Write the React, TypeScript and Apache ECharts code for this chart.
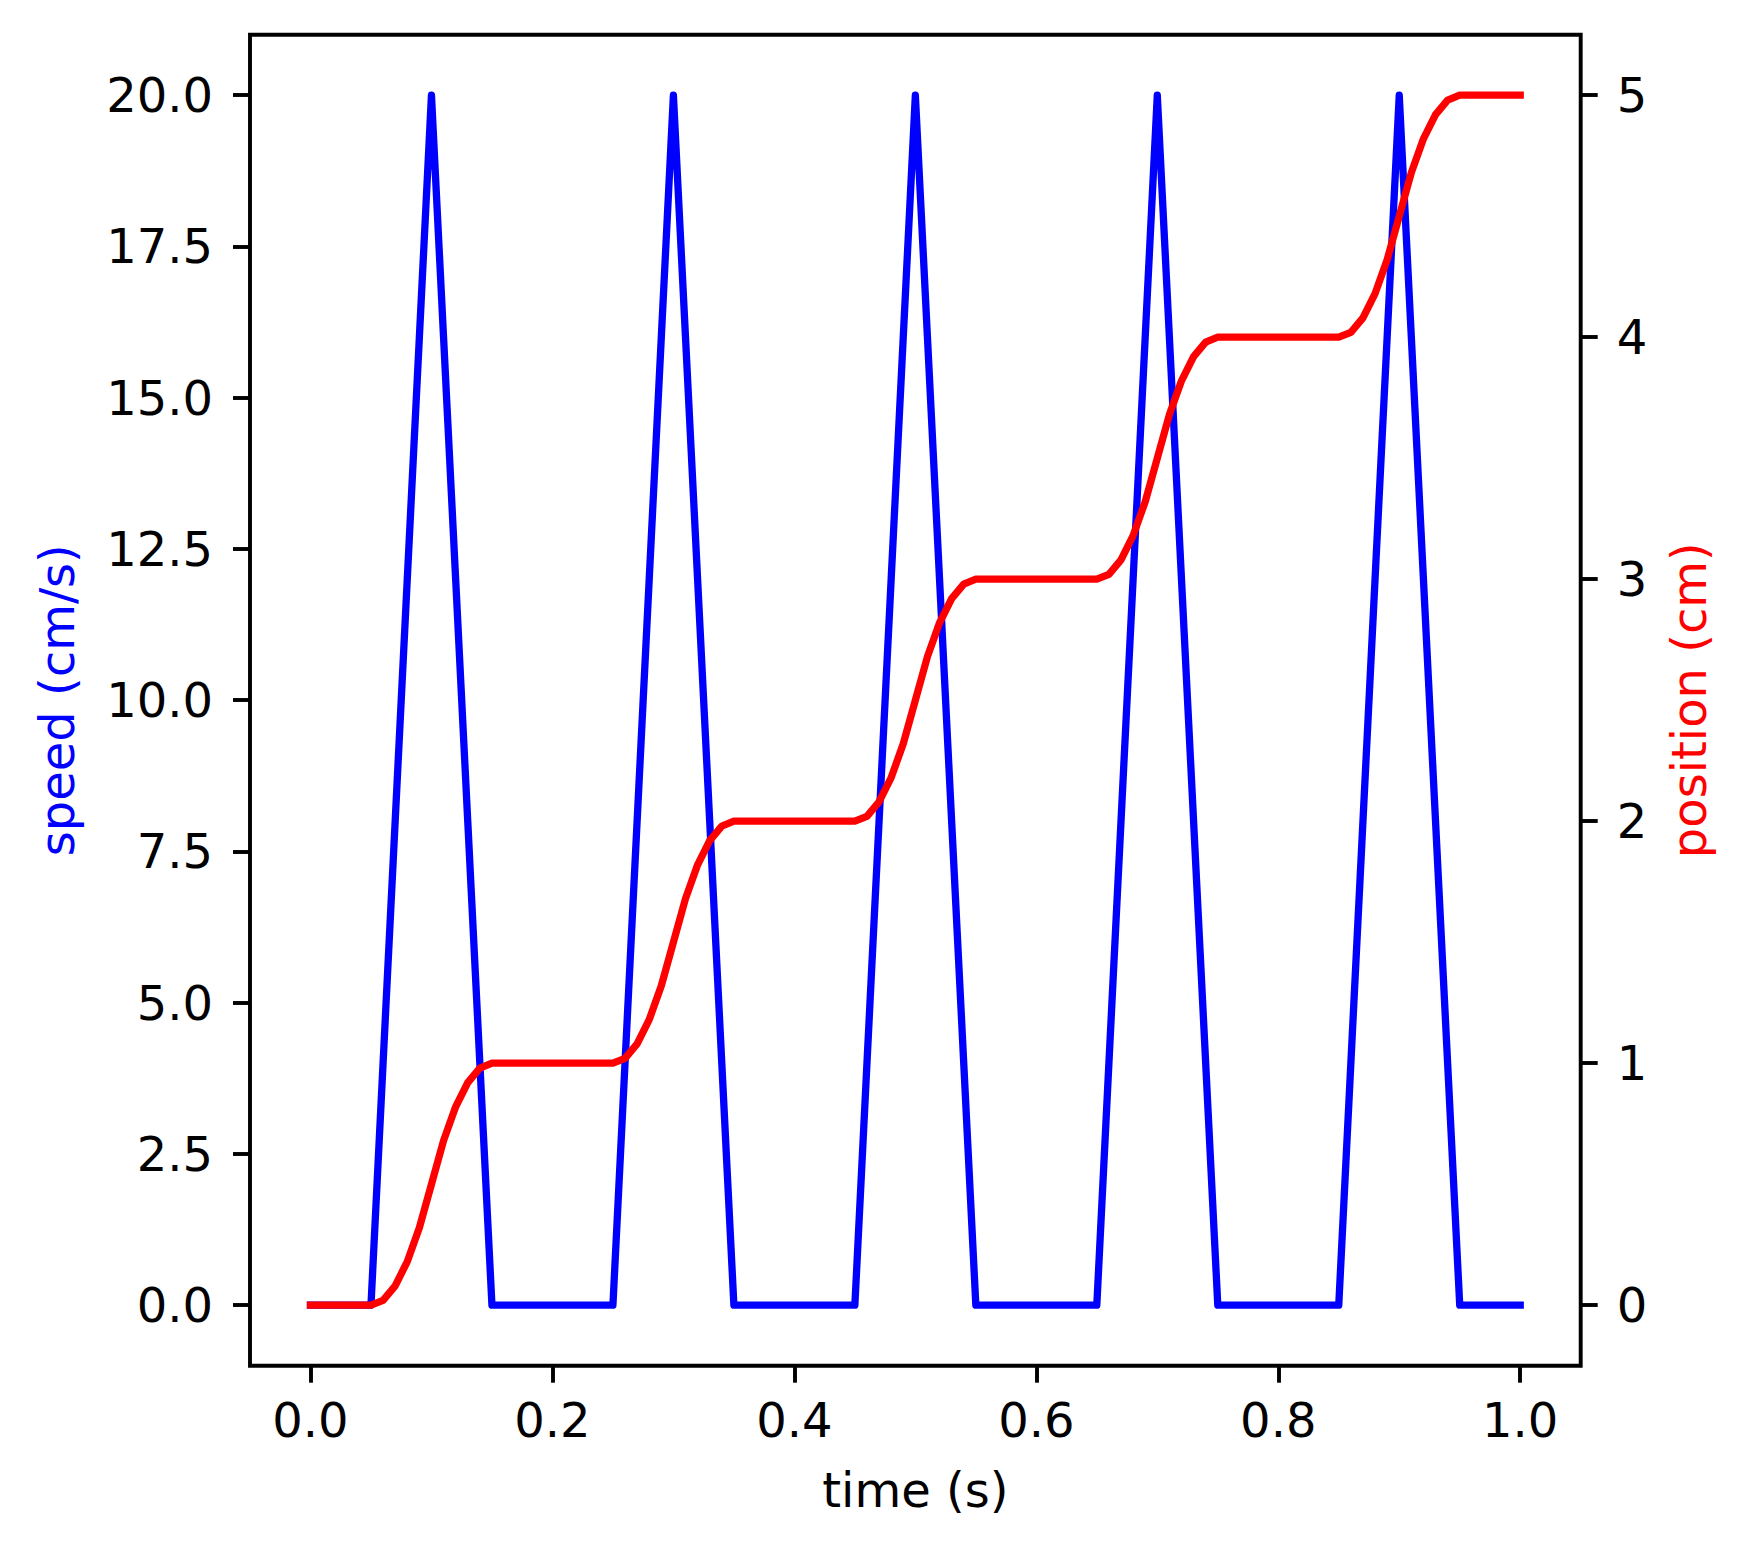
import React, { useEffect, useRef } from "react";
import * as echarts from "echarts";

const time = [
  0.0, 0.01, 0.02, 0.03, 0.04, 0.05, 0.06, 0.07, 0.08, 0.09,
  0.1, 0.11, 0.12, 0.13, 0.14, 0.15, 0.16, 0.17, 0.18, 0.19,
  0.2, 0.21, 0.22, 0.23, 0.24, 0.25, 0.26, 0.27, 0.28, 0.29,
  0.3, 0.31, 0.32, 0.33, 0.34, 0.35, 0.36, 0.37, 0.38, 0.39,
  0.4, 0.41, 0.42, 0.43, 0.44, 0.45, 0.46, 0.47, 0.48, 0.49,
  0.5, 0.51, 0.52, 0.53, 0.54, 0.55, 0.56, 0.57, 0.58, 0.59,
  0.6, 0.61, 0.62, 0.63, 0.64, 0.65, 0.66, 0.67, 0.68, 0.69,
  0.7, 0.71, 0.72, 0.73, 0.74, 0.75, 0.76, 0.77, 0.78, 0.79,
  0.8, 0.81, 0.82, 0.83, 0.84, 0.85, 0.86, 0.87, 0.88, 0.89,
  0.9, 0.91, 0.92, 0.93, 0.94, 0.95, 0.96, 0.97, 0.98, 0.99,
  1.0,
];

const speed = [
  0, 0, 0, 0, 0, 0, 4, 8, 12, 16,
  20, 16, 12, 8, 4, 0, 0, 0, 0, 0,
  0, 0, 0, 0, 0, 0, 4, 8, 12, 16,
  20, 16, 12, 8, 4, 0, 0, 0, 0, 0,
  0, 0, 0, 0, 0, 0, 4, 8, 12, 16,
  20, 16, 12, 8, 4, 0, 0, 0, 0, 0,
  0, 0, 0, 0, 0, 0, 4, 8, 12, 16,
  20, 16, 12, 8, 4, 0, 0, 0, 0, 0,
  0, 0, 0, 0, 0, 0, 4, 8, 12, 16,
  20, 16, 12, 8, 4, 0, 0, 0, 0, 0,
  0,
];

const position = [
  0, 0, 0, 0, 0, 0, 0.02, 0.08, 0.18, 0.32,
  0.5, 0.68, 0.82, 0.92, 0.98, 1, 1, 1, 1, 1,
  1, 1, 1, 1, 1, 1, 1.02, 1.08, 1.18, 1.32,
  1.5, 1.68, 1.82, 1.92, 1.98, 2, 2, 2, 2, 2,
  2, 2, 2, 2, 2, 2, 2.02, 2.08, 2.18, 2.32,
  2.5, 2.68, 2.82, 2.92, 2.98, 3, 3, 3, 3, 3,
  3, 3, 3, 3, 3, 3, 3.02, 3.08, 3.18, 3.32,
  3.5, 3.68, 3.82, 3.92, 3.98, 4, 4, 4, 4, 4,
  4, 4, 4, 4, 4, 4, 4.02, 4.08, 4.18, 4.32,
  4.5, 4.68, 4.82, 4.92, 4.98, 5, 5, 5, 5, 5,
  5,
];

const xTicks = [0, 0.2, 0.4, 0.6, 0.8, 1.0];
const speedTicks = [0, 2.5, 5, 7.5, 10, 12.5, 15, 17.5, 20];
const positionTicks = [0, 1, 2, 3, 4, 5];

const FONT = "DejaVu Sans";
const FS = 48;
const TICK_LEN = 17;
const LW = 3.9;

export default function App() {
  const ref = useRef<HTMLDivElement>(null);

  useEffect(() => {
    document.body.style.margin = "0";
    if (!ref.current) return;
    const chart = echarts.init(ref.current, null, { renderer: "svg" });

    const tickStyle = { show: true, inside: false, length: TICK_LEN, lineStyle: { color: "#000", width: LW } };
    const labelBase = { color: "#000", fontFamily: FONT, fontSize: FS };
    const noLine = { show: false, onZero: false };

    chart.setOption({
      animation: false,
      backgroundColor: "#fff",
      grid: {
        left: 250,
        top: 34.7,
        right: 170.3,
        bottom: 187.3,
        show: true,
        borderColor: "#000",
        borderWidth: LW,
        backgroundColor: "transparent",
      },
      xAxis: {
        type: "value",
        min: -0.05,
        max: 1.05,
        name: "time (s)",
        nameLocation: "middle",
        nameGap: 100,
        nameTextStyle: { color: "#000", fontFamily: FONT, fontSize: FS },
        axisLine: noLine,
        splitLine: { show: false },
        axisTick: { ...tickStyle, customValues: xTicks },
        axisLabel: {
          ...labelBase,
          margin: 30,
          customValues: xTicks,
          formatter: (v: number) => v.toFixed(1),
        },
      },
      yAxis: [
        {
          type: "value",
          position: "left",
          min: -1,
          max: 21,
          name: "speed (cm/s)",
          nameLocation: "middle",
          nameRotate: 90,
          nameGap: 169,
          nameTextStyle: { color: "#0000ff", fontFamily: FONT, fontSize: FS },
          axisLine: noLine,
          splitLine: { show: false },
          axisTick: { ...tickStyle, customValues: speedTicks },
          axisLabel: {
            ...labelBase,
            margin: 37,
            customValues: speedTicks,
            formatter: (v: number) => v.toFixed(1),
          },
        },
        {
          type: "value",
          position: "right",
          min: -0.25,
          max: 5.25,
          name: "position (cm)",
          nameLocation: "middle",
          nameRotate: 90,
          nameGap: 84,
          nameTextStyle: { color: "#ff0000", fontFamily: FONT, fontSize: FS },
          axisLine: noLine,
          splitLine: { show: false },
          axisTick: { ...tickStyle, customValues: positionTicks },
          axisLabel: {
            ...labelBase,
            margin: 36,
            customValues: positionTicks,
            formatter: (v: number) => String(v),
          },
        },
      ],
      series: [
        {
          name: "speed",
          type: "line",
          yAxisIndex: 0,
          showSymbol: false,
          symbol: "none",
          data: time.map((t, i) => [t, speed[i]]),
          lineStyle: { color: "#0000ff", width: 7.3, cap: "square", join: "round" },
          z: 2,
        },
        {
          name: "position",
          type: "line",
          yAxisIndex: 1,
          showSymbol: false,
          symbol: "none",
          data: time.map((t, i) => [t, position[i]]),
          lineStyle: { color: "#ff0000", width: 7.3, cap: "square", join: "round" },
          z: 3,
        },
      ],
    });

    return () => chart.dispose();
  }, []);

  return <div ref={ref} style={{ width: 1751, height: 1553 }} />;
}
